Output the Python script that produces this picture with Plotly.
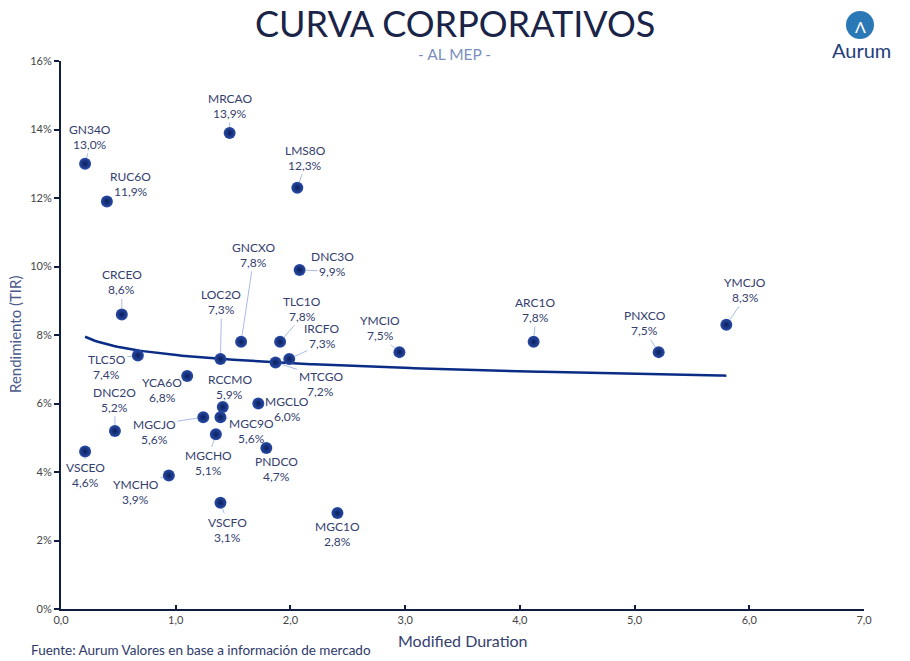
import numpy as np
import plotly.graph_objects as go

# ---------------- data ----------------
tickers = ["MRCAO", "GN34O", "RUC6O", "LMS8O", "DNC3O", "CRCEO", "GNCXO", "LOC2O",
           "TLC1O", "IRCFO", "MTCGO", "YMCIO", "ARC1O", "PNXCO", "YMCJO", "TLC5O",
           "YCA6O", "RCCMO", "MGCLO", "MGC9O", "MGCJO", "MGCHO", "DNC2O", "PNDCO",
           "VSCEO", "YMCHO", "VSCFO", "MGC1O"]
duration = [1.47, 0.21, 0.40, 2.06, 2.08, 0.53, 1.57, 1.39,
            1.91, 1.99, 1.87, 2.95, 4.12, 5.21, 5.80, 0.67,
            1.10, 1.41, 1.72, 1.39, 1.24, 1.35, 0.47, 1.79,
            0.21, 0.94, 1.39, 2.41]
yields = [13.9, 13.0, 11.9, 12.3, 9.9, 8.6, 7.8, 7.3,
          7.8, 7.3, 7.2, 7.5, 7.8, 7.5, 8.3, 7.4,
          6.8, 5.9, 6.0, 5.6, 5.6, 5.1, 5.2, 4.7,
          4.6, 3.9, 3.1, 2.8]

x_ticks = [0, 1, 2, 3, 4, 5, 6, 7]
x_ticktext = ["0,0", "1,0", "2,0", "3,0", "4,0", "5,0", "6,0", "7,0"]
y_ticks = [0, 2, 4, 6, 8, 10, 12, 14, 16]
y_ticktext = ["0%", "2%", "4%", "6%", "8%", "10%", "12%", "14%", "16%"]

# label offsets (pixels, text-block centre relative to point)
label_offsets = {
    "MRCAO": (0, -27), "GN34O": (5, -27), "RUC6O": (24, -17), "LMS8O": (8, -30),
    "DNC3O": (33, -6), "CRCEO": (0, -32), "GNCXO": (12, -87), "LOC2O": (1, -57),
    "TLC1O": (22, -33), "IRCFO": (33, -23), "MTCGO": (45, 22), "YMCIO": (-19, -24),
    "ARC1O": (2, -32), "PNXCO": (-14, -29), "YMCJO": (19, -35), "TLC5O": (-31, 11),
    "YCA6O": (-25, 14), "RCCMO": (7, -20), "MGCLO": (29, 5), "MGC9O": (31, 14),
    "MGCJO": (-49, 15), "MGCHO": (-7, 29), "DNC2O": (0, -31), "PNDCO": (10, 21),
    "VSCEO": (0, 24), "YMCHO": (-33, 17), "VSCFO": (7, 27), "MGC1O": (0, 21),
}

FONT = "Lato"
NAVY = "#0f1d40"
LABEL = "#34406e"
LINE_GAP = 7.5
LEADER = dict(showarrow=True, arrowhead=0, arrowwidth=1, arrowcolor="#a8bce6",
              standoff=6, startstandoff=0)

# logarithmic trend line fitted from data
lx = np.log(np.array(duration))
b, a = np.polyfit(lx, np.array(yields), 1)
xt = np.linspace(min(duration), max(duration), 200)
yt = a + b * np.log(xt)

fig = go.Figure()
fig.add_trace(go.Scatter(x=xt, y=yt, mode="lines",
                         line=dict(color="#0b2c85", width=2.5),
                         hoverinfo="skip", showlegend=False))
fig.add_trace(go.Scatter(x=duration, y=yields, mode="markers",
                         marker=dict(size=12, color="#2a4ca8",
                                     gradient=dict(type="radial", color="#0a1f5c"),
                                     line=dict(width=0)),
                         text=tickers, showlegend=False))

annotations = []
for t, xv, yv in zip(tickers, duration, yields):
    ax, ay = label_offsets[t]
    val = f"{yv:.1f}%".replace(".", ",")
    name_ann = dict(x=xv, y=yv, xref="x", yref="y", text=t,
                    font=dict(family=FONT, size=12, color=LABEL))
    val_ann = dict(x=xv, y=yv, xref="x", yref="y", text=val,
                   font=dict(family=FONT, size=12, color=LABEL))
    if ay < 0:
        # label above point: leader attaches to the value line
        val_ann.update(LEADER, ax=ax, ay=ay + LINE_GAP)
        name_ann.update(showarrow=False, xshift=ax, yshift=-ay + LINE_GAP,
                        xanchor="center", yanchor="middle")
    else:
        name_ann.update(LEADER, ax=ax, ay=ay - LINE_GAP)
        val_ann.update(showarrow=False, xshift=ax, yshift=-ay - LINE_GAP,
                       xanchor="center", yanchor="middle")
    annotations += [name_ann, val_ann]

# titles and footer (pixel positions, converted below)
annotations += [
    dict(text="CURVA CORPORATIVOS", x=455, y=23, showarrow=False,
         font=dict(family=FONT, size=36, color="#1a2448")),
    dict(text="- AL MEP -", x=454, y=54, showarrow=False,
         font=dict(family=FONT, size=15.5, color="#7b8fc0")),
    dict(text="Modified Duration", x=463, y=640, showarrow=False,
         font=dict(family=FONT, size=16, color="#34406e")),
    dict(text="Fuente: Aurum Valores en base a información de mercado", x=201, y=650,
         showarrow=False, font=dict(family=FONT, size=13.5, color="#2d3a6b")),
    dict(text="Rendimiento (TIR)", x=15, y=335, showarrow=False, textangle=-90,
         font=dict(family=FONT, size=15, color="#4a5a8a")),
    dict(text="Λ", x=860, y=26, showarrow=False,
         font=dict(family=FONT, size=16, color="white")),
    dict(text="Aurum", x=861, y=50, showarrow=False,
         font=dict(family=FONT, size=20, color="#1f3e7a")),
]

L, R, T, B = 61, 864, 61, 609
for an in annotations:
    if an.get("xref") == "x":
        continue
    an["xref"] = "paper"
    an["yref"] = "paper"
    an["x"] = (an["x"] - L) / (R - L)
    an["y"] = (B - an["y"]) / (B - T)
    an["xanchor"] = "center"
    an["yanchor"] = "middle"

fig.update_layout(
    width=910, height=661,
    margin=dict(l=L, r=910 - R, t=T, b=661 - B),
    paper_bgcolor="white", plot_bgcolor="white",
    annotations=annotations,
    shapes=[dict(type="circle", xref="paper", yref="paper",
                 xsizemode="pixel", ysizemode="pixel",
                 xanchor=(860 - L) / (R - L), yanchor=(B - 25) / (B - T),
                 x0=-14, x1=14, y0=-14, y1=14,
                 fillcolor="#2a78b5", line=dict(width=0), layer="above")],
    font=dict(family=FONT),
)
fig.update_xaxes(range=[0, 7], tickvals=x_ticks, ticktext=x_ticktext,
                 showgrid=False, zeroline=False, showline=True,
                 linecolor=NAVY, linewidth=2, ticks="inside", ticklen=4,
                 tickcolor=NAVY, tickwidth=1.5,
                 tickfont=dict(family=FONT, size=11, color="#444444"))
fig.update_yaxes(range=[0, 16], tickvals=y_ticks, ticktext=y_ticktext,
                 showgrid=False, zeroline=False, showline=True,
                 linecolor=NAVY, linewidth=2, ticks="outside", ticklen=5,
                 tickcolor=NAVY, tickwidth=1.5,
                 tickfont=dict(family=FONT, size=11, color="#444444"))

fig.write_html("out.html")
